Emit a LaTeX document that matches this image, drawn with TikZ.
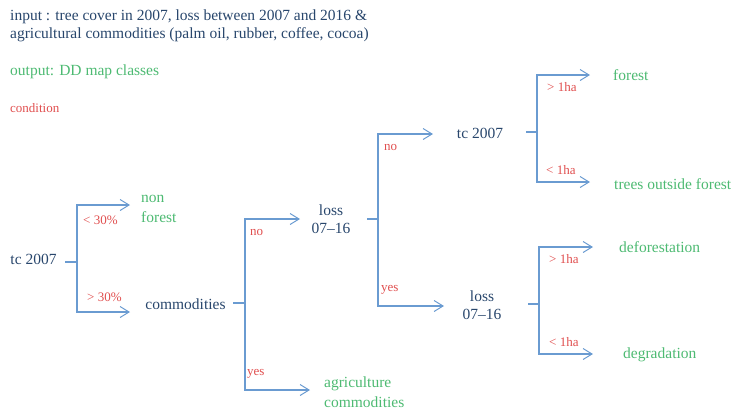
\documentclass[tikz,border=0pt]{standalone}
\usepackage{fontspec}
\setmainfont{Liberation Serif}
\usetikzlibrary{arrows.meta}
\definecolor{dk}{HTML}{28466C}
\definecolor{gr}{HTML}{4DBA72}
\definecolor{rd}{HTML}{E04E4E}
\definecolor{ln}{HTML}{6A9BD1}
\tikzset{
  dark/.style={text=dk, font=\fontsize{15.5}{18.5}\selectfont, inner sep=0pt},
  cls/.style={text=gr, font=\fontsize{15.5}{19.5}\selectfont, inner sep=0pt, anchor=west, align=left},
  cond/.style={text=rd, font=\fontsize{13}{15}\selectfont, inner sep=0pt, anchor=west},
  conn/.style={draw=ln, line width=1.1pt},
  arr/.style={conn, -{Straight Barb[length=9pt,width=11pt,line width=1pt]}},
}
\begin{document}
\begin{tikzpicture}[x=1pt,y=-1pt]
\useasboundingbox (0,0) rectangle (742,416);
% header
\node[dark, anchor=west, align=left, font=\fontsize{15.5}{18}\selectfont] (title) at (10,26) {input : tree cover in 2007, loss between 2007 and 2016 \&\\agricultural commodities (palm oil, rubber, coffee, cocoa)};
\node[cls] (outp) at (10,72) {output: DD map classes};
\node[cond] (condl) at (10,108) {condition};
% decision nodes
\node[dark] (tc1) at (33.5,259) {tc 2007};
\node[dark] (comm) at (185.5,304) {commodities};
\node[dark, align=center] (loss1) at (331,219) {loss\\07–16};
\node[dark] (tc2) at (480,133) {tc 2007};
\node[dark, align=center] (loss2) at (482,305) {loss\\07–16};
% classes
\node[cls] (nonf) at (141,209) {non\\forest};
\node[cls] (agri) at (324,392) {agriculture\\commodities};
\node[cls] (forest) at (613,75) {forest};
\node[cls] (tof) at (614,184) {trees outside forest};
\node[cls] (defo) at (619,247) {deforestation};
\node[cls] (degr) at (623,355) {degradation};
% connector points
\coordinate (s1) at (65,262);   \coordinate (j1) at (77,262);
\coordinate (e1a) at (130,205); \coordinate (e1b) at (130,312);
\coordinate (s2) at (233,303);  \coordinate (j2) at (245,303);
\coordinate (e2a) at (300,219); \coordinate (e2b) at (310,390);
\coordinate (s3) at (367,219);  \coordinate (j3) at (378,219);
\coordinate (e3a) at (433,134); \coordinate (e3b) at (444,306);
\coordinate (s4) at (526,132);  \coordinate (j4) at (537,132);
\coordinate (e4a) at (590,75);  \coordinate (e4b) at (590,182);
\coordinate (s5) at (528,304);  \coordinate (j5) at (539,304);
\coordinate (e5a) at (593,247); \coordinate (e5b) at (593,354);
% connectors
\draw[conn] (s1) -- (j1);
\draw[arr] (j1) |- (e1a);
\draw[arr] (j1) |- (e1b);
\draw[conn] (s2) -- (j2);
\draw[arr] (j2) |- (e2a);
\draw[arr] (j2) |- (e2b);
\draw[conn] (s3) -- (j3);
\draw[arr] (j3) |- (e3a);
\draw[arr] (j3) |- (e3b);
\draw[conn] (s4) -- (j4);
\draw[arr] (j4) |- (e4a);
\draw[arr] (j4) |- (e4b);
\draw[conn] (s5) -- (j5);
\draw[arr] (j5) |- (e5a);
\draw[arr] (j5) |- (e5b);
% condition labels
\node[cond] (c1a) at (83,220) {< 30\%};
\node[cond] (c1b) at (87,297) {> 30\%};
\node[cond] (c2a) at (250,232) {no};
\node[cond] (c2b) at (247,374) {yes};
\node[cond] (c3a) at (384,147) {no};
\node[cond] (c3b) at (381,290) {yes};
\node[cond] (c4a) at (547,87) {> 1ha};
\node[cond] (c4b) at (546,170) {< 1ha};
\node[cond] (c5a) at (549,259) {> 1ha};
\node[cond] (c5b) at (549,342) {< 1ha};
\end{tikzpicture}
\end{document}
